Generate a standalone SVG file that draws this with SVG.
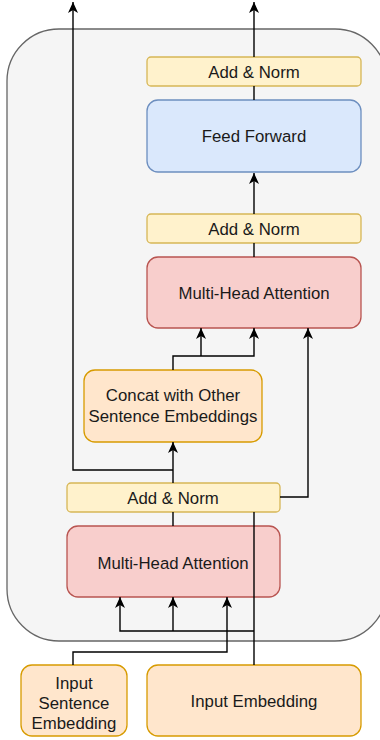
<svg xmlns="http://www.w3.org/2000/svg" width="380" height="740" viewBox="0 0 380 740">
<defs>
<marker id="arr" markerUnits="userSpaceOnUse" markerWidth="12" markerHeight="12" refX="11" refY="5.5" orient="auto">
<path d="M11,5.5 L0,0.5 L3,5.5 L0,10.5 Z" fill="#000"/>
</marker>
<style>
text{font-family:"Liberation Sans",Arial,sans-serif;font-size:16.8px;fill:#1a1a1a;text-anchor:middle}
.an{fill:#fff2cc;stroke:#d6b656;stroke-width:1.3}
.ff{fill:#dae8fc;stroke:#6c8ebf;stroke-width:1.3}
.mha{fill:#f8cecc;stroke:#b85450;stroke-width:1.3}
.or{fill:#ffe6cc;stroke:#d79b00;stroke-width:1.3}
.c{fill:none;stroke:#000;stroke-width:1.4}
.a{marker-end:url(#arr)}
</style>
</defs>
<rect width="380" height="740" fill="#fff"/>
<g id="container"><rect x="7" y="29" width="380" height="612" rx="52" fill="#f5f5f5" stroke="#666" stroke-width="1.3"/></g>
<g id="addnorm3"><rect class="an" x="147" y="57" width="214" height="29" rx="4"/><text x="254" y="78">Add &amp; Norm</text></g>
<g id="feedforward"><rect class="ff" x="147" y="100" width="214" height="72" rx="11"/><text x="254" y="142">Feed Forward</text></g>
<g id="addnorm2"><rect class="an" x="147" y="214" width="214" height="29" rx="4"/><text x="254" y="235">Add &amp; Norm</text></g>
<g id="mha2"><rect class="mha" x="147" y="257" width="214" height="71" rx="11"/><text x="254" y="298.5">Multi-Head Attention</text></g>
<g id="concat"><rect class="or" x="84" y="370" width="178" height="72" rx="11"/><text x="173" y="401">Concat with Other</text><text x="173" y="421.5">Sentence Embeddings</text></g>
<g id="addnorm1"><rect class="an" x="67" y="483" width="213" height="29" rx="4"/><text x="173" y="504">Add &amp; Norm</text></g>
<g id="mha1"><rect class="mha" x="67" y="526" width="213" height="71" rx="11"/><text x="173" y="568.5">Multi-Head Attention</text></g>
<g id="inputsentence"><rect class="or" x="21" y="665" width="106" height="71" rx="11"/><text x="74" y="689">Input</text><text x="74" y="709">Sentence</text><text x="74" y="729">Embedding</text></g>
<g id="inputembedding"><rect class="or" x="147" y="665" width="214" height="71" rx="11"/><text x="254" y="706.5">Input Embedding</text></g>
<g id="connectors">
<path class="c a" d="M254,57 V2"/>
<path class="c" d="M254,100 V86"/>
<path class="c a" d="M254,214 V173"/>
<path class="c" d="M254,257 V243"/>
<path class="c a" d="M173,370 V356 H254 V328"/>
<path class="c a" d="M201,356 V328"/>
<path class="c a" d="M280,497 H308 V328"/>
<path class="c a" d="M173,483 V442"/>
<path class="c a" d="M173,470 H73 V2"/>
<path class="c" d="M173,526 V512"/>
<path class="c" d="M254,665 V512"/>
<path class="c a" d="M254,631 H120 V597"/>
<path class="c a" d="M173,631 V597"/>
<path class="c a" d="M73,665 V652 H227 V597"/>
</g>
</svg>
